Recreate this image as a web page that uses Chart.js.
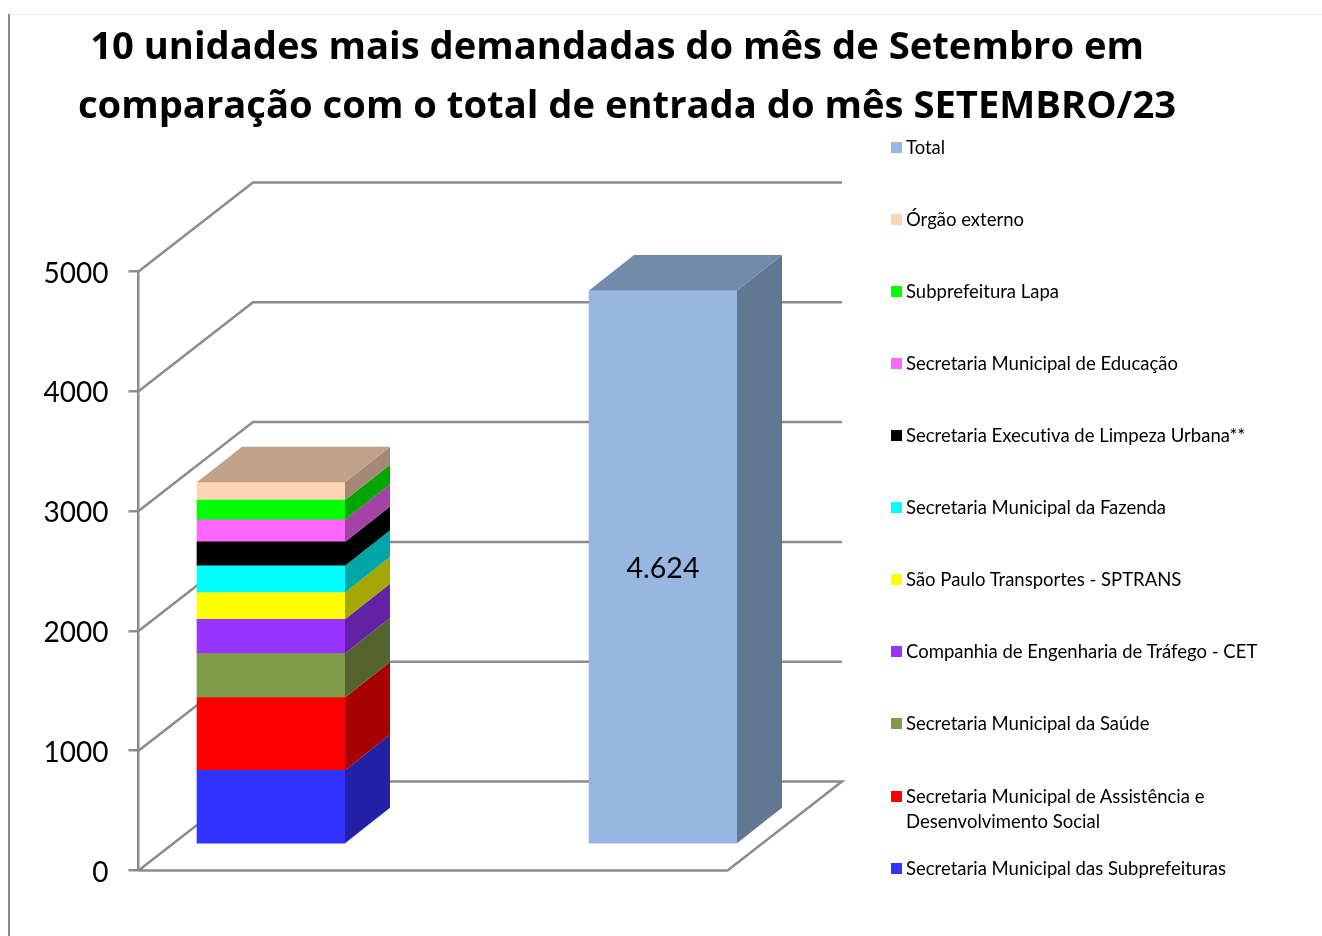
<!DOCTYPE html>
<html lang="pt-BR">
<head>
<meta charset="utf-8">
<title>10 unidades mais demandadas</title>
<script src="https://cdn.jsdelivr.net/npm/chart.js@4"></script>
<style>
html,body{margin:0;padding:0;background:#fff;width:1322px;height:936px;overflow:hidden}
#frameTop{position:absolute;left:8px;top:14px;width:1314px;height:1px;background:#eeeeee}
#frameLeft{position:absolute;left:8px;top:14px;width:2px;height:922px;background:#8c8c8c}
#c{position:absolute;left:0;top:0}
#legend{position:absolute;left:891px;top:111px;font:18.5px Lato,sans-serif;font-variant-ligatures:none;color:#000}
.row{position:relative;height:72px;box-sizing:border-box;padding:24px 0 0 15px;line-height:25px;white-space:pre-line;width:425px}
.row i{position:absolute;left:0;top:31px;width:11px;height:11px}
.row.two{margin-top:1px}
</style>
</head>
<body>
<div id="frameTop"></div><div id="frameLeft"></div>
<canvas id="c" width="1254" height="936"></canvas>
<div id="legend"></div>
<script>
const titleLines = ['10 unidades mais demandadas do mês de Setembro em  ', 'comparação com o total de entrada do mês SETEMBRO/23'];
const categories = ['Unidades', 'Total'];
const unitNames = [
  'Secretaria Municipal das Subprefeituras',
  'Secretaria Municipal de Assistência e\nDesenvolvimento Social',
  'Secretaria Municipal da Saúde',
  'Companhia de Engenharia de Tráfego - CET',
  'São Paulo Transportes - SPTRANS',
  'Secretaria Municipal da Fazenda',
  'Secretaria Executiva de Limpeza Urbana**',
  'Secretaria Municipal de Educação',
  'Subprefeitura Lapa',
  'Órgão externo'
];
const unitValues = [620, 607, 367, 286, 223, 223, 200, 184, 164, 150];
const unitColors = ['#3333FF', '#FF0000', '#7F9A48', '#9933FF', '#FFFF00', '#00FFFF', '#000000', '#FF66FF', '#00FF00', '#FCD5B5'];
const totalName = 'Total';
const totalValue = 4624;
const totalLabel = '4.624';
const totalColor = '#97B7E0';
const yTicks = [0, 1000, 2000, 3000, 4000, 5000];
const gridColor = '#8c8c8c';

function shade(hex, f) {
  const n = parseInt(hex.slice(1), 16);
  const p = v => Math.round(v * f).toString(16).padStart(2, '0');
  return '#' + p(n >> 16 & 255) + p(n >> 8 & 255) + p(n & 255);
}

const datasets = unitNames.map((name, i) => ({
  label: name.replace('\n', ' '),
  data: [unitValues[i], null],
  backgroundColor: unitColors[i]
}));
datasets.push({label: totalName, data: [null, totalValue], backgroundColor: totalColor});

const depth3d = {
  id: 'depth3d',
  afterLayout(chart) {
    // The value axis stands at the front corner of the floor, inside the category band.
    const y = chart.scales.y, o = chart.options.plugins.depth3d;
    y.right = o.axisX; y.left = o.axisX - 100; y.width = 100;
    // The title is centred on the whole canvas, not on the plot.
    const t = chart.titleBlock;
    t.left = 0; t.right = chart.width; t.width = chart.width;
  },
  beforeDatasetsDraw(chart, args, o) {
    const {ctx, scales: {y}} = chart;
    const right = o.axisX + o.floorWidth;
    ctx.save();
    ctx.strokeStyle = gridColor; ctx.lineWidth = 2.5; ctx.lineJoin = 'miter';
    yTicks.forEach(v => {
      const p = y.getPixelForValue(v);
      ctx.beginPath();
      ctx.moveTo(o.axisX, p);
      ctx.lineTo(o.axisX + o.wallDx, p + o.wallDy);
      ctx.lineTo(right + o.wallDx, p + o.wallDy);
      if (v === 0) { ctx.lineTo(right, p); ctx.lineTo(o.axisX, p); }
      ctx.stroke();
    });
    ctx.restore();
    ctx.save();
    ctx.translate(0, -o.barLift);
  },
  afterDatasetsDraw(chart, args, o) {
    const {ctx} = chart;
    const visible = chart.data.datasets.map((d, i) => chart.getDatasetMeta(i));
    const poly = (pts, fill) => {
      ctx.beginPath();
      pts.forEach((q, k) => k ? ctx.lineTo(q[0], q[1]) : ctx.moveTo(q[0], q[1]));
      ctx.closePath(); ctx.fillStyle = fill; ctx.fill();
    };
    categories.forEach((c, idx) => {
      let last = null;
      visible.forEach((meta, di) => {
        const bar = meta.data[idx];
        if (chart.data.datasets[di].data[idx] == null) return;
        const col = chart.data.datasets[di].backgroundColor;
        const r = bar.x + bar.width / 2;
        poly([[r, bar.base], [r + o.barDx, bar.base + o.barDy], [r + o.barDx, bar.y + o.barDy], [r, bar.y]], shade(col, 0.65));
        last = {bar, col};
      });
      if (last) {
        const {bar, col} = last, l = bar.x - bar.width / 2, r = bar.x + bar.width / 2;
        poly([[l, bar.y], [l + o.barDx, bar.y + o.barDy], [r + o.barDx, bar.y + o.barDy], [r, bar.y]], shade(col, 0.76));
      }
    });
    const tm = chart.getDatasetMeta(chart.data.datasets.length - 1).data[1];
    ctx.fillStyle = '#000'; ctx.font = '28.5px Lato, sans-serif';
    ctx.textAlign = 'center'; ctx.textBaseline = 'middle';
    ctx.fillText(totalLabel, tm.x, (tm.y + tm.base) / 2 + 1.5);
    ctx.restore();
  }
};

new Chart(document.getElementById('c'), {
  type: 'bar',
  data: {labels: categories, datasets},
  plugins: [depth3d],
  options: {
    responsive: false,
    animation: false,
    datasets: {bar: {barThickness: 148, borderWidth: 0, clip: false}},
    layout: {padding: {left: 0, right: 395, top: 19, bottom: 65.5}},
    scales: {
      x: {stacked: true, display: false, grid: {display: false}},
      y: {
        stacked: true, min: 0, max: 5000,
        afterFit(s) { s.width = 75; },
        afterBuildTicks(s) { s.ticks = yTicks.map(value => ({value})); },
        border: {display: true, color: gridColor, width: 2.5},
        grid: {drawOnChartArea: false, color: gridColor, lineWidth: 2.5, tickLength: 10},
        ticks: {padding: 20, labelOffset: 2, color: '#000', font: {family: 'Lato, sans-serif', size: 28}, callback: v => String(v)}
      }
    },
    plugins: {
      legend: {display: false},
      tooltip: {enabled: false},
      title: {
        display: true, text: titleLines, color: '#000',
        font: {family: '"Open Sans", sans-serif', size: 38.2, weight: 'bold', lineHeight: 59 / 38.2},
        padding: {top: 0, bottom: 134.5}
      },
      depth3d: {axisX: 138.5, floorWidth: 589, wallDx: 114.5, wallDy: -89, barDx: 45, barDy: -35.5, barLift: 26}
    }
  }
});

const legendRows = [[totalName, totalColor]].concat(unitNames.map((n, i) => [n, unitColors[i]]).reverse());
const legendBox = document.getElementById('legend');
legendRows.forEach(([name, color]) => {
  const row = document.createElement('div'); row.className = 'row' + (name.includes('\n') ? ' two' : '');
  const sw = document.createElement('i'); sw.style.background = color;
  row.appendChild(sw); row.appendChild(document.createTextNode(name));
  legendBox.appendChild(row);
});
</script>
</body>
</html>
